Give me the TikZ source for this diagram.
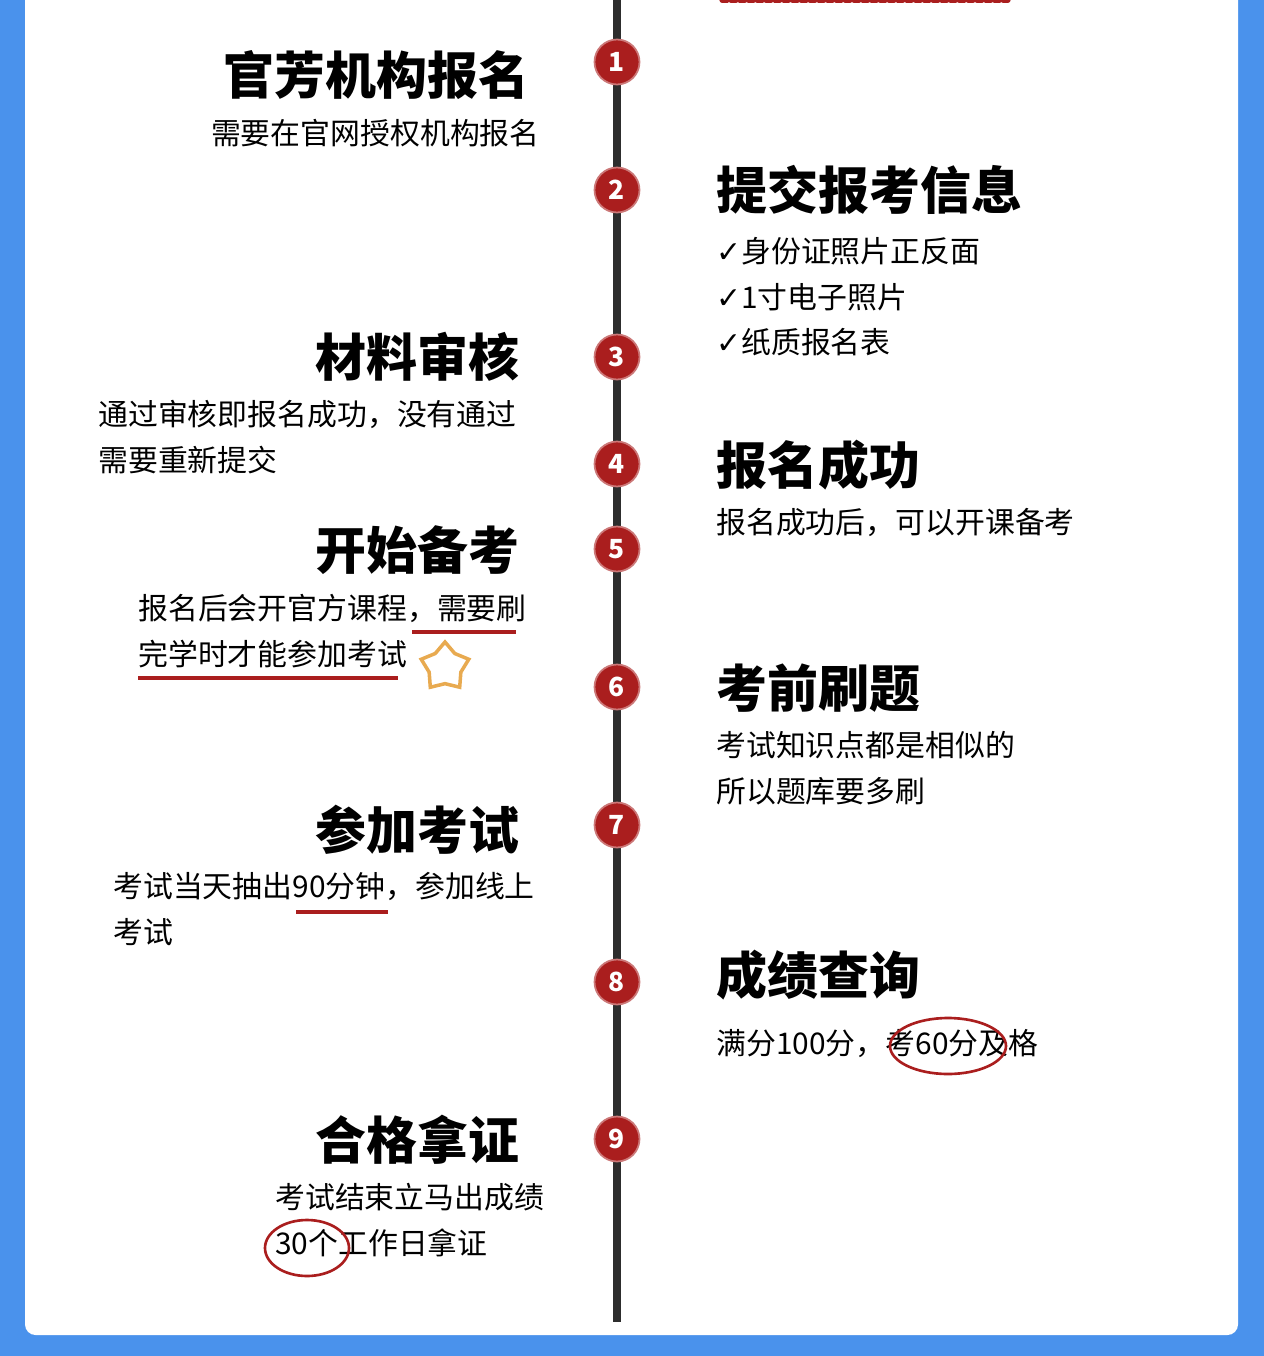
\documentclass[tikz,border=0pt]{standalone}
\usepackage{fontspec}
\setmainfont{Noto Sans CJK SC}
\newfontfamily\symfont{DejaVu Sans}
\usetikzlibrary{shapes.geometric}
\definecolor{frameblue}{RGB}{74,146,236}
\definecolor{dotred}{RGB}{170,30,30}
\definecolor{linegray}{RGB}{45,45,45}
\definecolor{starorange}{RGB}{232,170,80}

\tikzset{
  stepdot/.style={circle,fill=dotred,draw=dotred!60,line width=1pt,minimum size=0.9cm,inner sep=0pt,text=white,font=\bfseries\fontsize{15}{15}\selectfont},
  title/.style={inner sep=0pt,font=\bfseries\fontsize{29}{29}\selectfont},
  sub/.style={inner sep=0pt,align=left,font=\fontsize{17}{26}\selectfont},
  mark line/.style={dotred,line width=2.5pt},
  ring/.style={draw=dotred,line width=1.5pt}
}

\begin{document}
\begin{tikzpicture}[x=0.02cm,y=-0.02cm]
\useasboundingbox (0,0) rectangle (1264,1356);
\fill[frameblue] (0,0) rectangle (1264,1356);
\fill[white,rounded corners=6] (25,-20) rectangle (1238,1335);
\draw[dotred,line width=3pt,dotted,line cap=round] (722,0) -- (1008,0);

% timeline
\coordinate (top) at (617,0);
\coordinate (bot) at (617,1322);
\draw[linegray,line width=4pt] (top) -- (bot);
\foreach \n/\y in {1/62,2/190,3/357,4/464,5/549,6/687,7/825,8/982,9/1139}
  \node[stepdot] (s\n) at (617,\y) {\n};

% left column
\node[title,anchor=east] (t1) at (530,75) {官芳机构报名};
\node[sub,anchor=east] (d1) at (540,133) {需要在官网授权机构报名};
\node[title,anchor=east] (t3) at (520,357) {材料审核};
\node[sub,anchor=north west] (d3) at (98,400) {通过审核即报名成功，没有通过\\需要重新提交};
\node[title,anchor=east] (t5) at (520,550) {开始备考};
\node[sub,anchor=north west] (d5) at (138,594) {报名后会开官方课程，需要刷\\完学时才能参加考试};
\node[title,anchor=east] (t7) at (520,830) {参加考试};
\node[sub,anchor=north west] (d7) at (113,872) {考试当天抽出90分钟，参加线上\\考试};
\node[title,anchor=east] (t9) at (520,1140) {合格拿证};
\node[sub,anchor=north west] (d9) at (275,1183) {考试结束立马出成绩\\30个工作日拿证};

% right column
\node[title,anchor=west] (t2) at (716,190) {提交报考信息};
\node[sub,anchor=north west] (d2) at (716,237) {{\symfont ✓}身份证照片正反面\\{\symfont ✓}1寸电子照片\\{\symfont ✓}纸质报名表};
\node[title,anchor=west] (t4) at (716,465) {报名成功};
\node[sub,anchor=west] (d4) at (716,523) {报名成功后，可以开课备考};
\node[title,anchor=west] (t6) at (716,688) {考前刷题};
\node[sub,anchor=north west] (d6) at (716,731) {考试知识点都是相似的\\所以题库要多刷};
\node[title,anchor=west] (t8) at (716,975) {成绩查询};
\node[sub,anchor=west] (d8) at (716,1044) {满分100分，考60分及格};

% hand marks
\draw[mark line] (412,632) -- (516,632);
\draw[mark line] (138,678) -- (398,678);
\draw[mark line] (296,912) -- (388,912);
\node[star,star points=5,draw=starorange,line width=2pt,minimum size=1cm,inner sep=0pt] (st) at (445,667) {};
\draw[ring] (948,1046) ellipse (58 and 28);
\draw[ring] (307,1248) ellipse (42 and 28);
\end{tikzpicture}
\end{document}
